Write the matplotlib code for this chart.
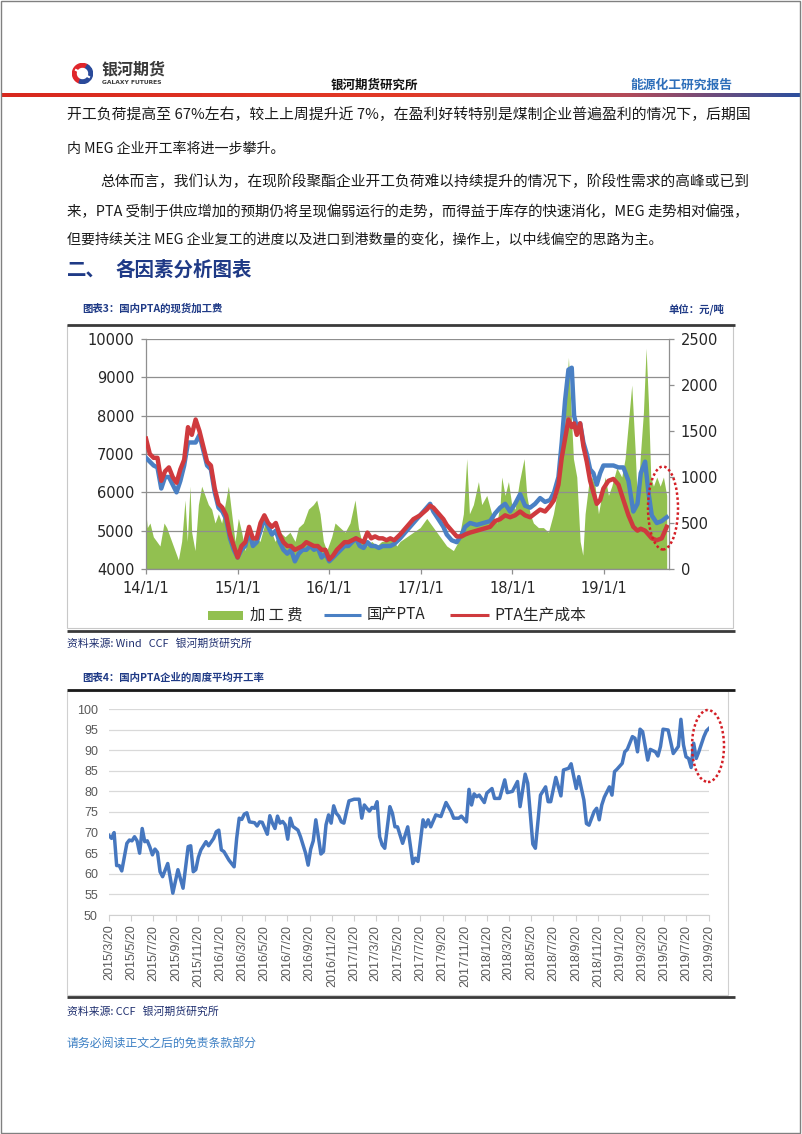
import matplotlib
matplotlib.use('Agg')
import matplotlib.pyplot as plt
import numpy as np
import pandas as pd
from matplotlib.lines import Line2D
from matplotlib.patches import Ellipse, Rectangle, Wedge
from matplotlib.colors import LinearSegmentedColormap

plt.rcParams['font.family'] = ['Noto Sans CJK SC', 'DejaVu Sans']

# ---- chart 3 data: months since 2014-01-01 ----
pta_month = [0, 0.5, 1, 1.5, 2, 2.5, 3, 3.5, 4, 4.5, 5, 5.5, 6, 6.5, 7, 7.5, 8, 8.5, 9, 9.5,
             10, 10.5, 11, 11.5, 12, 12.5, 13, 13.5, 14, 14.5, 15, 15.5, 16, 16.5, 17, 17.5,
             18, 18.5, 19, 19.5, 20, 20.5, 21, 21.5, 22, 22.5, 23, 23.5, 24, 24.5, 25, 25.5,
             26, 26.5, 27, 27.5, 28, 28.5, 29, 29.5, 30, 30.5, 31, 31.5, 32, 32.5,
             33.28, 34.15, 35.02, 35.9, 36.77, 37.21, 37.64, 38.3, 38.95, 39.39, 40.04, 40.7,
             41.35, 41.79, 42.45, 43.32, 44.19, 45.07, 45.72, 46.38, 47.03, 47.69, 48.34, 49.0,
             49.65, 50.31, 50.96, 51.62, 52.27, 52.93, 53.45, 54.02, 54.45, 54.89, 55.33, 55.76,
             56.07, 56.42, 56.86, 57.29, 57.73, 58.17, 58.6, 59.04, 59.48, 59.91, 60.57, 61.22,
             61.88, 62.53, 63.19, 63.83, 64.37, 64.8, 65.37, 65.81, 66.24, 66.9, 67.55, 68.2]
pta_price = [6900, 6800, 6700, 6650, 6100, 6400, 6400, 6200, 6000, 6300, 6700, 7300, 7300, 7300,
             7500, 7100, 6700, 6600, 6000, 5600, 5500, 5300, 4800, 4500, 4300, 4500, 4600, 5000,
             4600, 4700, 5000, 5300, 5100, 4900, 5000, 4700, 4500, 4400, 4500, 4200, 4400, 4500,
             4500, 4600, 4500, 4550, 4300, 4400, 4200, 4300, 4400, 4500, 4600, 4600, 4700, 4800,
             4600, 4550, 4700, 4600, 4600, 4550, 4600, 4600, 4600, 4650,
             4800, 5000, 5200, 5400, 5600, 5700, 5500, 5300, 5100, 4900, 4750, 4700,
             4900, 5100, 5200, 5150, 5200, 5250, 5450, 5600, 5700, 5500, 5700, 5950,
             5650, 5600, 5700, 5850, 5750, 5800, 6000, 6400, 7300, 8400, 9200, 9250,
             8000, 7700, 7800, 7300, 7000, 6600, 6500, 6200, 6500, 6700, 6700, 6700,
             6650, 6650, 6300, 5500, 5700, 6500, 6800, 6000, 5400, 5200, 5250, 5350]
cost_price = [7400, 7000, 6900, 6900, 6300, 6550, 6650, 6400, 6250, 6600, 6850, 7700, 7500, 7900,
              7600, 7200, 6800, 6700, 6100, 5700, 5600, 5400, 4900, 4600, 4300, 4600, 4700, 5100,
              4800, 4800, 5200, 5400, 5200, 5100, 5200, 4900, 4700, 4600, 4600, 4500, 4550, 4600,
              4700, 4650, 4600, 4600, 4500, 4500, 4250, 4350, 4500, 4600, 4700, 4700, 4750, 4800,
              4750, 4700, 4950, 4800, 4850, 4800, 4800, 4750, 4800, 4750,
              4900, 5100, 5300, 5400, 5550, 5650, 5600, 5450, 5300, 5150, 5000, 4850,
              4850, 4900, 4950, 5000, 5050, 5100, 5250, 5300, 5400, 5350, 5400, 5500,
              5400, 5350, 5450, 5550, 5500, 5650, 5800, 6200, 6900, 7400, 7900, 7700,
              7800, 7500, 7800, 7200, 6800, 6300, 6000, 5700, 5800, 6100, 6300, 6350,
              6200, 5800, 5400, 5100, 5000, 5050, 5000, 4900, 4800, 4750, 4800, 5100]
fee_month = [0, 0.17, 0.52, 0.96, 1.4, 1.83, 2.36, 2.71, 3.14, 3.8, 4.24, 4.67, 5.11, 5.41, 5.76,
             5.98, 6.42, 6.86, 7.29, 7.73, 8.17, 8.6, 9.04, 9.48, 9.91, 10.35, 10.79, 11.22, 11.66,
             12.1, 12.53, 12.97, 13.41, 13.84, 14.28, 14.93, 15.59, 16.24, 16.9, 17.55, 18.21,
             18.86, 19.52, 19.96, 20.61, 21.27, 21.92, 22.36, 22.79, 23.23, 23.67, 24.32, 24.76,
             25.41, 26.07, 26.72, 27.38, 27.82, 28.25, 28.91, 29.56, 30.22, 30.87, 31.53, 32.18,
             32.84, 33.28, 34.15, 35.02, 35.9, 36.77, 37.64, 38.52, 39.39, 40.26, 40.92, 41.57,
             42.01, 42.36, 42.88, 43.54, 43.97, 44.63, 45.28, 45.94, 46.38, 46.59, 47.03, 47.47,
             47.9, 48.34, 48.91, 49.52, 49.87, 50.31, 50.74, 51.4, 52.05, 52.71, 53.36, 54.02,
             54.67, 55.11, 55.33, 55.63, 55.98, 56.42, 56.86, 57.21, 57.51, 57.95, 58.38, 58.82,
             59.26, 59.69, 60.13, 60.57, 61.0, 61.66, 62.31, 62.75, 63.19, 63.62, 64.06, 64.37,
             64.72, 65.15, 65.5, 65.81, 66.11, 66.46, 66.9, 67.34, 67.77, 68.2]
fee_value = [600, 450, 500, 350, 300, 250, 500, 450, 350, 200, 100, 300, 750, 300, 900,
             400, 200, 700, 900, 800, 700, 650, 500, 600, 500, 700, 900, 600, 300,
             550, 400, 200, 350, 300, 350, 300, 500, 450, 300, 400, 350,
             400, 300, 450, 500, 650, 700, 750, 600, 300, 200, 350, 500,
             450, 400, 500, 750, 450, 300, 250, 300, 250, 300, 300, 350,
             250, 300, 350, 400, 450, 550, 450, 350, 250, 200, 300, 600,
             1200, 600, 700, 950, 700, 800, 600, 500, 700, 1000, 800, 950,
             700, 650, 950, 1200, 800, 600, 500, 450, 450, 400, 600, 900,
             1300, 2000, 2300, 1800, 1200, 1000, 300, 150, 600, 900, 1000, 900,
             600, 800, 1000, 800, 900, 1100, 1000, 1200, 1600, 2000, 1300, 700,
             1200, 1700, 2400, 1800, 1000, 900, 1000, 900, 1000, 800]
year_ticks = [0, 12, 24, 36, 48, 60]
year_labels = ['14/1/1', '15/1/1', '16/1/1', '17/1/1', '18/1/1', '19/1/1']

# ---- chart 4 data: weeks since 2015-03-20 ----
week_idx = [0, 1, 2, 3, 4, 5, 6, 7, 8, 9, 10, 11, 12, 13, 14, 15, 16, 17, 18, 19, 20, 21, 23, 24,
            25, 27, 29, 31, 32, 33, 34, 35, 36, 38, 39, 41, 42, 43, 44, 45, 47, 49, 50, 51, 52,
            53, 54, 55, 57, 58, 59, 60, 62, 63, 64, 65, 66, 67, 68, 69, 70, 71, 72, 74, 75, 77,
            78, 79, 80, 81, 82, 83, 84, 85, 86, 87, 88, 89, 90, 91, 92, 93, 94, 96, 98, 99, 100,
            101, 102, 103, 104, 105, 106, 107, 108, 110, 111, 112, 113, 115, 117, 119, 120, 121,
            123, 124, 125, 126, 128, 130, 132, 134, 135, 137, 138, 140, 141, 142, 143, 144, 145,
            147, 148, 150, 151, 153, 155, 156, 158, 160, 161, 163, 164, 166, 167, 168, 169, 171,
            172, 173, 175, 177, 178, 180, 181, 183, 184, 186, 187, 188, 190, 191, 192, 193, 194,
            196, 197, 198, 199, 201, 202, 203, 205, 206, 207, 208, 209, 211, 212, 214, 215, 216,
            217, 219, 221, 223, 224, 225, 226, 227, 228, 229, 230, 231, 233, 234, 235]
run_rate = [69.3, 68.6, 70, 62, 62, 60.7, 64, 67.4, 68.2, 68, 69, 68, 65, 71, 67.8, 68, 66.5, 64.6,
            66, 65.2, 60.5, 59.3, 62.5, 59, 55.3, 61, 56.5, 66.6, 66.8, 60.5, 61, 64, 65.8, 67.8,
            66.8, 68.6, 70.2, 70.6, 65.8, 65.4, 63.3, 61.7, 68.6, 73.5, 73.2, 74.5, 74.8, 72.6,
            72.4, 71.6, 72.6, 72.5, 69.6, 74.1, 72.3, 71, 74, 72.3, 72.7, 71.9, 68.4, 73.5, 71.5,
            70.6, 69, 65, 62.1, 66, 68, 73.1, 69, 64.8, 65.4, 71.9, 74.3, 72.3, 76.5, 74.7, 74,
            72.6, 72.3, 75.1, 77.7, 78.1, 78.1, 73.5, 76.7, 75.9, 75.2, 76.1, 75.9, 77.5, 69, 67,
            66.2, 76.3, 74.7, 71.4, 71.4, 67.4, 71.4, 62.5, 63.8, 63, 73.1, 71.4, 73.1, 71.4,
            74.3, 73.9, 77.3, 75.1, 73.5, 73.5, 74, 72.6, 80.5, 76.7, 79.4, 78.7, 79.1, 77.3,
            79.6, 80.7, 78.3, 78.3, 82.8, 79.7, 80, 82.4, 76.3, 84.2, 82, 67.2, 66.2, 72.7, 79.1,
            81.1, 77.5, 77.5, 83.4, 78.9, 85.2, 85.6, 86.7, 80.7, 83.6, 77.9, 72.2, 71.8, 75.1,
            75.9, 73.1, 76.7, 78.6, 81.1, 79.1, 84.8, 85.4, 86.8, 89.6, 90.2, 93.3, 92.9, 89.6,
            95.1, 94.5, 87.6, 90.2, 89.6, 88.6, 90.9, 95.1, 94.9, 89.2, 90.9, 97.5, 91.3, 88.4,
            88, 85.8, 91.7, 88, 89.6, 93.3, 94.7, 95.3]

body_lines = [
    '开工负荷提高至 67%左右，较上上周提升近 7%，在盈利好转特别是煤制企业普遍盈利的情况下，后期国',
    '内 MEG 企业开工率将进一步攀升。',
    '总体而言，我们认为，在现阶段聚酯企业开工负荷难以持续提升的情况下，阶段性需求的高峰或已到',
    '来，PTA 受制于供应增加的预期仍将呈现偏弱运行的走势，而得益于库存的快速消化，MEG 走势相对偏强，',
    '但要持续关注 MEG 企业复工的进度以及进口到港数量的变化，操作上，以中线偏空的思路为主。',
]

W, H = 802, 1134
fig = plt.figure(figsize=(W / 100, H / 100), dpi=100)
renderer = fig.canvas.get_renderer()


def fx(x):
    return x / W


def fy(y):
    return 1 - y / H


def hline(x0, x1, y, color, lw):
    fig.add_artist(Line2D([fx(x0), fx(x1)], [fy(y), fy(y)], transform=fig.transFigure,
                          color=color, lw=lw, solid_capstyle='butt'))


def ftext(x, y, s, fit=None, **kw):
    t = fig.text(fx(x), fy(y), s, va='center', **kw)
    if fit:
        w = t.get_window_extent(renderer).width
        t.set_fontsize(t.get_fontsize() * fit / w)
    return t


# page border
fig.add_artist(Rectangle((fx(1), fy(1133)), 799 / W, 1132 / H, transform=fig.transFigure,
                         fill=False, edgecolor='#808080', lw=1))

# header
ax_logo = fig.add_axes([fx(72), fy(84), 21 / W, 21 / H])
ax_logo.set_xlim(0, 21)
ax_logo.set_ylim(0, 21)
ax_logo.axis('off')
ax_logo.add_patch(Wedge((10.5, 10.5), 10, 60, 250, color='#e0262b'))
ax_logo.add_patch(Wedge((10.5, 10.5), 10, 250, 420, color='#2a4a9a'))
ax_logo.add_patch(Wedge((10.5, 10.5), 5, 0, 360, color='white'))
ax_logo.plot([4, 17], [14, 7], color='white', lw=1.5)
ftext(102, 69, '银河期货', fontsize=11.5, fontweight='bold', color='#3a3a3a')
ftext(102, 82, 'GALAXY FUTURES', fontsize=4.3, fontweight='bold', color='#3a3a3a',
      family=['DejaVu Sans'])
ftext(374, 85, '银河期货研究所', fontsize=9, fontweight='bold', color='#111111', ha='center')
ftext(681, 85, '能源化工研究报告', fontsize=9.2, fontweight='bold', color='#2e6fba', ha='center')

ax_bar = fig.add_axes([0.002, fy(97), 0.996, 4 / H])
bar_cmap = LinearSegmentedColormap.from_list(
    'bar', [(0, '#d8281e'), (0.5, '#e23a26'), (0.78, '#b44a58'), (1, '#2c4f9e')])
ax_bar.imshow(np.linspace(0, 1, 600)[None, :], aspect='auto', cmap=bar_cmap)
ax_bar.axis('off')

# body text
txt_kw = dict(fontsize=10.1, color='#1a1a1a')
ftext(67, 115, body_lines[0], fit=680, **txt_kw)
ftext(67, 148, body_lines[1], **txt_kw)
ftext(100, 182, body_lines[2], fit=647, **txt_kw)
ftext(67, 212, body_lines[3], fit=682, **txt_kw)
ftext(67, 240, body_lines[4], **txt_kw)
ftext(67, 270, '二、', fontsize=14, fontweight='bold', color='#1f3a86')
ftext(115, 270, '各因素分析图表', fontsize=14, fontweight='bold', color='#1f3a86')

# ---- chart 3 frame ----
title_kw = dict(fontsize=7.5, fontweight='bold', color='#1f3a86')
ftext(82, 309, '图表3：国内PTA的现货加工费', **title_kw)
ftext(724, 309, '单位：元/吨', ha='right', **title_kw)
fig.add_artist(Rectangle((fx(67), fy(628)), 666 / W, 303 / H, transform=fig.transFigure,
                         fill=False, edgecolor='#c8c8c8', lw=0.8))
hline(67, 735, 325, '#3a3a3a', 2)
hline(67, 735, 631, '#3a3a3a', 2)

ax_fee = fig.add_axes([fx(146), fy(569), (669 - 146) / W, (569 - 339) / H])
ax_fee.fill_between(fee_month, 0, fee_value, color='#92c050', lw=0)
ax_px = ax_fee.twinx()
ax_fee.yaxis.tick_right()
ax_px.yaxis.tick_left()
ax_px.plot(pta_month, pta_price, color='#4a80c4', lw=3.2, solid_joinstyle='round')
ax_px.plot(pta_month, cost_price, color='#cf3a3e', lw=3.2, solid_joinstyle='round')
ax_fee.set_xlim(0, 68.5)
ax_fee.set_ylim(0, 2500)
ax_px.set_ylim(4000, 10000)
ax_fee.set_yticks(range(0, 2501, 500))
ax_px.set_yticks(range(4000, 10001, 1000))
ax_px.set_axisbelow(True)
ax_px.grid(axis='y', color='#8f8f8f', lw=0.9)
ax_fee.set_xticks(year_ticks)
ax_fee.set_xticklabels(year_labels)
for a in (ax_fee, ax_px):
    for s in a.spines.values():
        s.set_visible(False)
for s in ('left', 'right', 'bottom'):
    ax_fee.spines[s].set_visible(True)
    ax_fee.spines[s].set_color('#8f8f8f')
    ax_fee.spines[s].set_linewidth(0.9)
tick3 = dict(labelsize=10.5, labelcolor='#262626', color='#8f8f8f', length=3.5, width=0.9,
             labelfontfamily='DejaVu Sans')
ax_fee.tick_params(axis='x', pad=5, **tick3)
ax_fee.tick_params(axis='y', pad=5, **tick3)
ax_px.tick_params(axis='y', pad=5, **tick3)
ax_fee.patch.set_facecolor('white')

# legend chart 3
fig.add_artist(Rectangle((fx(208), fy(620)), 35 / W, 9 / H, transform=fig.transFigure,
                         color='#92c050', lw=0))
ftext(250, 615, '加 工 费', fontsize=11, color='#262626')
hline(324, 361, 615, '#4a80c4', 2.2)
ftext(367, 615, '国产PTA', fontsize=11, color='#262626')
hline(450, 489, 615, '#cf3a3e', 2.2)
ftext(494, 615, 'PTA生产成本', fontsize=11.3, color='#262626')

src_kw = dict(fontsize=7.8, color='#1f2f6f')
ftext(67, 643, '资料来源: Wind   CCF   银河期货研究所', **src_kw)

fig.add_artist(Ellipse((fx(663), fy(508)), 30 / W, 83 / H, transform=fig.transFigure,
                       fill=False, edgecolor='#d41f26', lw=1.8, linestyle=(0, (1, 1))))

# ---- chart 4 ----
ftext(82, 678, '图表4：国内PTA企业的周度平均开工率', **title_kw)
fig.add_artist(Rectangle((fx(67), fy(995)), 661 / W, 304 / H, transform=fig.transFigure,
                         fill=False, edgecolor='#d0d0d0', lw=0.8))
hline(67, 735, 690, '#1a1a1a', 2)
hline(67, 735, 997, '#3a3a3a', 2)

ax4 = fig.add_axes([fx(109), fy(915), 600 / W, 206 / H])
start = pd.Timestamp('2015-03-20')
week_dates = start + pd.to_timedelta(np.array(week_idx) * 7, unit='D')
ax4.plot(week_dates, run_rate, color='#4677bf', lw=2.5, solid_joinstyle='round')
tick_dates = pd.date_range('2015-03-01', '2019-09-01', freq='2MS') + pd.Timedelta(days=19)
ax4.set_xlim(tick_dates[0], tick_dates[-1])
ax4.set_xticks(tick_dates)
ax4.set_xticklabels([f'{d.year}/{d.month}/{d.day}' for d in tick_dates], rotation=90,
                    fontfamily='Liberation Sans')
ax4.set_ylim(50, 100)
ax4.set_yticks(range(50, 101, 5))
ax4.grid(axis='y', color='#d9d9d9', lw=0.9)
ax4.set_axisbelow(True)
for s in ('left', 'right', 'top'):
    ax4.spines[s].set_visible(False)
ax4.spines['bottom'].set_color('#d0d0d0')
ax4.tick_params(axis='x', labelsize=9, labelcolor='#595959', color='#d0d0d0', length=4, pad=3)
ax4.tick_params(axis='y', labelsize=9, labelcolor='#595959', length=0, pad=8,
                labelfontfamily='Liberation Sans')

fig.add_artist(Ellipse((fx(708), fy(746)), 32 / W, 72 / H, transform=fig.transFigure,
                       fill=False, edgecolor='#d41f26', lw=1.8, linestyle=(0, (1, 1))))

ftext(67, 1011, '资料来源: CCF   银河期货研究所', **src_kw)
ftext(67, 1043, '请务必阅读正文之后的免责条款部分', fontsize=8.6, color='#3d80c4')

fig.savefig('out.png', dpi=100)
